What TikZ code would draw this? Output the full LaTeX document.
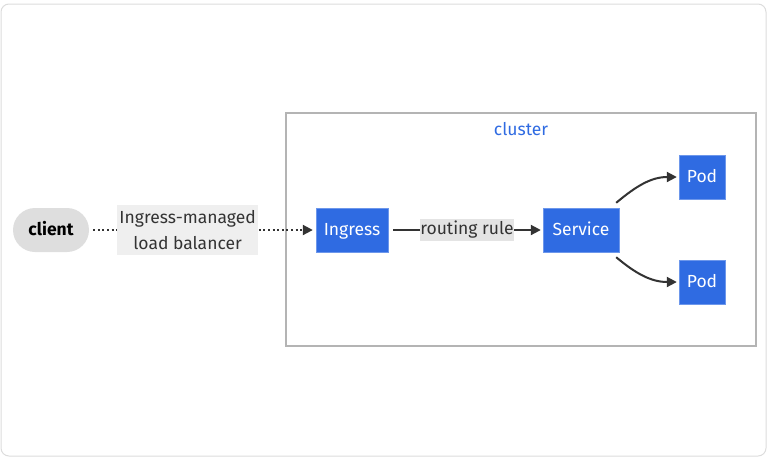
\documentclass[tikz,border=0pt]{standalone}
\usepackage{fontspec}
\setmainfont{Fira Sans}
\usetikzlibrary{arrows.meta,positioning}
\definecolor{k8sBlue}{HTML}{2F6BE2}
\definecolor{k8sGray}{HTML}{333333}
\definecolor{k8sFrame}{HTML}{DCDCDC}
\definecolor{k8sCluster}{HTML}{B4B4B4}
\definecolor{k8sClient}{HTML}{DEDEDE}
\definecolor{k8sLabel}{HTML}{EFEFEF}
\tikzset{
  k8sBox/.style={
    draw=k8sBlue!70!white,
    fill=k8sBlue,
    text=white,
    minimum height=44pt,
    inner sep=0pt,
    text height=12pt,
    text depth=0.5pt,
    font=\fontsize{17.5}{21}\selectfont
  },
  clientNode/.style={
    fill=k8sClient,
    rounded corners=22pt,
    minimum width=76pt,
    minimum height=44pt,
    inner sep=0pt,
    text height=12pt,
    text depth=0.5pt,
    font=\fontsize{17.5}{21}\selectfont\bfseries
  },
  edgeLabel/.style={
    fill=k8sLabel,
    text=k8sGray,
    align=center,
    inner xsep=2pt,
    inner ysep=5pt,
    font=\fontsize{17.5}{26}\selectfont
  },
  flowArrow/.style={-{Stealth[length=10pt,width=10pt,inset=0pt]}, line width=2pt, k8sGray},
  lbArrow/.style={flowArrow, dash pattern=on 2pt off 2.6pt}
}
\begin{document}
\begin{tikzpicture}[x=1pt,y=-1pt]
  \useasboundingbox (0,0) rectangle (768,459);
  \draw[k8sFrame, line width=1pt, rounded corners=8pt] (1,4) rectangle (766,456);

  % cluster frame
  \node[draw=k8sCluster, line width=2pt, fill=white, minimum width=470pt,
        minimum height=233pt, inner sep=0pt] (cluster) at (521,229.5) {};
  \node[text=k8sBlue, font=\fontsize{17.5}{21}\selectfont, below=7pt of cluster.north,
        anchor=north] (clusterLabel) {cluster};

  \node[clientNode] (client) at (51,230) {client};
  \node[k8sBox, minimum width=72pt] (ingress) at (352,230) {Ingress};
  \node[k8sBox, minimum width=76pt] (service) at (581,230) {Service};
  \node[k8sBox, minimum width=46pt] (podA) at (702,177) {Pod};
  \node[k8sBox, minimum width=46pt] (podB) at (702,282) {Pod};

  \draw[lbArrow] ([xshift=4pt]client.east) -- node[pos=0.43, edgeLabel, minimum width=139pt]
    {Ingress-managed\\load balancer} ([xshift=-3pt]ingress.west);
  \draw[flowArrow] ([xshift=5pt]ingress.east) -- node[edgeLabel, fill=k8sLabel!90!gray,
    inner xsep=0pt, inner ysep=2pt] {routing rule} ([xshift=-2pt]service.west);
  \draw[flowArrow] ([xshift=-3pt,yshift=5pt]service.north east)
    to[out=40, in=180] ([xshift=-2pt]podA.west);
  \draw[flowArrow] ([xshift=-3pt,yshift=-5pt]service.south east)
    to[out=-40, in=180] ([xshift=-2pt]podB.west);
\end{tikzpicture}
\end{document}
